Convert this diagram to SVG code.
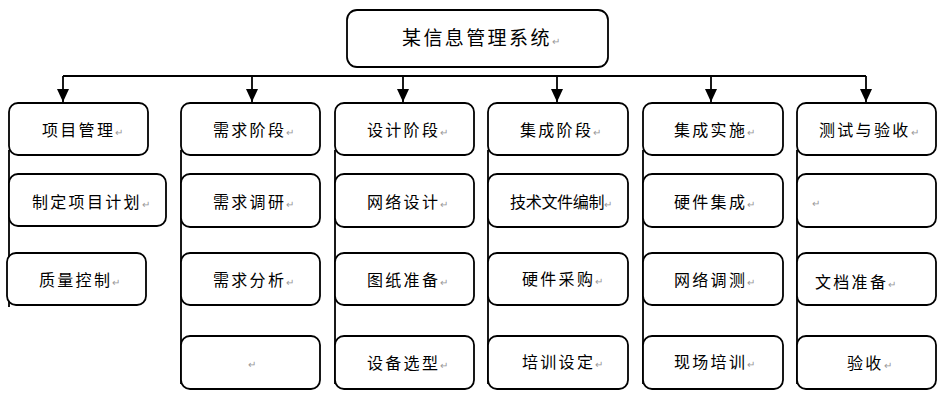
<svg xmlns="http://www.w3.org/2000/svg" width="943" height="405" viewBox="0 0 943 405">
<style>
.box{fill:#fff;stroke:#000;stroke-width:1.8}
.ln{fill:none;stroke:#000;stroke-width:1.8}
.t{font-family:"Noto Sans CJK SC","Noto Sans",sans-serif;font-size:16px;fill:#000;letter-spacing:2.3px}
.r{font-size:10px;fill:#999;letter-spacing:0}
</style>
<defs>
<marker id="ah" markerWidth="13" markerHeight="12" refX="13" refY="6" orient="auto" markerUnits="userSpaceOnUse" viewBox="0 0 13 12">
<path d="M0,0 L13,6 L0,12 Z" fill="#000"/>
</marker>
</defs>
<g id="connectors">
<path class="ln" d="M63,76 H866"/>
<path class="ln" d="M63,76 V102" marker-end="url(#ah)"/>
<path class="ln" d="M252,76 V102" marker-end="url(#ah)"/>
<path class="ln" d="M403,76 V102" marker-end="url(#ah)"/>
<path class="ln" d="M557,76 V102" marker-end="url(#ah)"/>
<path class="ln" d="M711,76 V102" marker-end="url(#ah)"/>
<path class="ln" d="M866,76 V102" marker-end="url(#ah)"/>
<path class="ln" d="M9,150 V307"/>
<path class="ln" d="M181,150 V384"/>
<path class="ln" d="M335,150 V384"/>
<path class="ln" d="M488,150 V384"/>
<path class="ln" d="M643,150 V384"/>
<path class="ln" d="M797,150 V384"/>
</g>
<g id="root"><rect class="box" x="347" y="10" width="261" height="57" rx="10"/><text class="t" x="402" y="45" style="font-size:19px;letter-spacing:2.4px">某信息管理系统<tspan class="r">↵</tspan></text></g>

<g id="n1"><rect class="box" x="9" y="103" width="139" height="52" rx="9"/><text class="t" x="42" y="136">项目管理<tspan class="r">↵</tspan></text></g>
<g id="n1a"><rect class="box" x="9" y="174" width="157" height="52" rx="9"/><text class="t" x="32" y="208">制定项目计划<tspan class="r">↵</tspan></text></g>
<g id="n1b"><rect class="box" x="7" y="253" width="139" height="52" rx="9"/><text class="t" x="39" y="286">质量控制<tspan class="r">↵</tspan></text></g>

<g id="n2"><rect class="box" x="181" y="103" width="139" height="52" rx="9"/><text class="t" x="213" y="136">需求阶段<tspan class="r">↵</tspan></text></g>
<g id="n2a"><rect class="box" x="181" y="174" width="139" height="53" rx="9"/><text class="t" x="213" y="208">需求调研<tspan class="r">↵</tspan></text></g>
<g id="n2b"><rect class="box" x="181" y="253" width="139" height="52" rx="9"/><text class="t" x="213" y="286">需求分析<tspan class="r">↵</tspan></text></g>
<g id="n2c"><rect class="box" x="181" y="336" width="139" height="53" rx="9"/><text class="t r" x="248" y="368">↵</text></g>

<g id="n3"><rect class="box" x="335" y="103" width="139" height="52" rx="9"/><text class="t" x="367" y="136">设计阶段<tspan class="r">↵</tspan></text></g>
<g id="n3a"><rect class="box" x="335" y="174" width="139" height="53" rx="9"/><text class="t" x="367" y="208">网络设计<tspan class="r">↵</tspan></text></g>
<g id="n3b"><rect class="box" x="335" y="253" width="139" height="52" rx="9"/><text class="t" x="367" y="286">图纸准备<tspan class="r">↵</tspan></text></g>
<g id="n3c"><rect class="box" x="335" y="336" width="139" height="53" rx="9"/><text class="t" x="367" y="369">设备选型<tspan class="r">↵</tspan></text></g>

<g id="n4"><rect class="box" x="488" y="103" width="140" height="52" rx="9"/><text class="t" x="520" y="136">集成阶段<tspan class="r">↵</tspan></text></g>
<g id="n4a"><rect class="box" x="488" y="174" width="140" height="53" rx="9"/><text class="t" x="510" y="208" style="letter-spacing:-0.3px">技术文件编制<tspan class="r">↵</tspan></text></g>
<g id="n4b"><rect class="box" x="488" y="253" width="140" height="52" rx="9"/><text class="t" x="522" y="285">硬件采购<tspan class="r">↵</tspan></text></g>
<g id="n4c"><rect class="box" x="488" y="336" width="140" height="53" rx="9"/><text class="t" x="522" y="368">培训设定<tspan class="r">↵</tspan></text></g>

<g id="n5"><rect class="box" x="643" y="103" width="140" height="52" rx="9"/><text class="t" x="674" y="136">集成实施<tspan class="r">↵</tspan></text></g>
<g id="n5a"><rect class="box" x="643" y="174" width="140" height="53" rx="9"/><text class="t" x="674" y="208">硬件集成<tspan class="r">↵</tspan></text></g>
<g id="n5b"><rect class="box" x="643" y="253" width="140" height="52" rx="9"/><text class="t" x="674" y="286">网络调测<tspan class="r">↵</tspan></text></g>
<g id="n5c"><rect class="box" x="643" y="336" width="140" height="53" rx="9"/><text class="t" x="674" y="368">现场培训<tspan class="r">↵</tspan></text></g>

<g id="n6"><rect class="box" x="797" y="103" width="139" height="52" rx="9"/><text class="t" x="819" y="136">测试与验收<tspan class="r">↵</tspan></text></g>
<g id="n6a"><rect class="box" x="797" y="174" width="139" height="53" rx="9"/><text class="t r" x="812" y="207">↵</text></g>
<g id="n6b"><rect class="box" x="797" y="253" width="139" height="52" rx="9"/><text class="t" x="815" y="288">文档准备<tspan class="r">↵</tspan></text></g>
<g id="n6c"><rect class="box" x="797" y="336" width="139" height="53" rx="9"/><text class="t" x="847" y="369">验收<tspan class="r">↵</tspan></text></g>
</svg>
